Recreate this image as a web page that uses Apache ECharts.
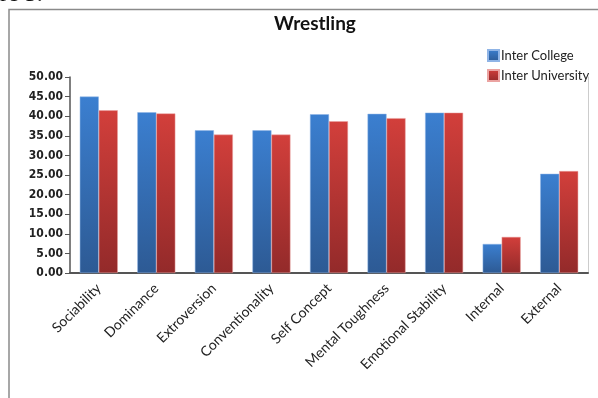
<!DOCTYPE html>
<html>
<head>
<meta charset="utf-8">
<script src="https://cdn.jsdelivr.net/npm/echarts@6/dist/echarts.min.js"></script>
<style>
  html, body { margin: 0; padding: 0; background: #fff; }
  #chart { width: 598px; height: 398px; }
</style>
</head>
<body>
<div id="chart"></div>
<script>
// 数据
var categories = ['Sociability', 'Dominance', 'Extroversion', 'Conventionality', 'Self Concept',
  'Mental Toughness', 'Emotional Stability', 'Internal', 'External']
var collegeValues = [45.0, 41.0, 36.4, 36.4, 40.5, 40.6, 40.9, 7.4, 25.3]
var universityValues = [41.5, 40.7, 35.3, 35.3, 38.7, 39.5, 40.9, 9.2, 26.0]
var seriesNames = ['Inter College', 'Inter University']

function grad(top, bottom) {
  return new echarts.graphic.LinearGradient(0, 0, 0, 1, [
    { offset: 0, color: top },
    { offset: 1, color: bottom }
  ])
}

var chart = echarts.init(document.getElementById('chart'))
chart.setOption({
  animation: false,
  title: {
    text: 'Wrestling',
    left: 310,
    top: 9,
    textAlign: 'center',
    textStyle: { fontFamily: 'Lato', fontWeight: 'bold', fontSize: 19, color: '#111' }
  },
  legend: {
    orient: 'vertical',
    left: 482,
    top: 44,
    itemWidth: 11,
    itemHeight: 11,
    itemGap: 7,
    icon: 'rect',
    data: seriesNames,
    textStyle: { fontFamily: 'Lato', fontSize: 13, color: '#222', padding: [0, 0, 0, -3] }
  },
  graphic: [
    {
      type: 'text',
      left: 0,
      top: -17,
      style: { text: 're 5.', font: '24px "Liberation Serif"', fill: '#111' }
    },
    {
      type: 'polyline',
      shape: { points: [[9, 398], [9, 9.5], [598, 9.5]] },
      style: { stroke: '#8a8a8a', lineWidth: 1.5, fill: null }
    }
  ],
  grid: { left: 70, right: 10, top: 77, bottom: 125 },
  xAxis: {
    type: 'category',
    data: categories,
    axisLine: { lineStyle: { color: '#555', width: 2 } },
    axisTick: { show: false },
    axisLabel: {
      rotate: 45,
      margin: 13,
      fontFamily: 'Lato',
      fontSize: 14,
      color: '#222'
    }
  },
  yAxis: [
    {
      type: 'value',
      min: 0,
      max: 50,
      interval: 5,
      splitLine: { show: false },
      axisLine: { show: true, lineStyle: { color: '#555', width: 1.5 } },
      axisTick: { show: true, length: 5, lineStyle: { color: '#555' } },
      axisLabel: {
        margin: 7,
        fontFamily: 'DejaVu Sans Condensed',
        fontWeight: 'bold',
        fontSize: 12,
        color: '#222',
        formatter: function (v) { return v.toFixed(2) }
      }
    },
    {
      type: 'value',
      position: 'right',
      min: 0,
      max: 50,
      splitLine: { show: false },
      axisLine: { show: true, lineStyle: { color: '#ccc', width: 1 } },
      axisTick: { show: false },
      axisLabel: { show: false }
    }
  ],
  series: [
    {
      name: seriesNames[0],
      type: 'bar',
      data: collegeValues,
      barGap: '0%',
      barCategoryGap: '34%',
      itemStyle: {
        color: grad('#3b7fd0', '#2d5a94'),
        borderColor: '#8fb4e6',
        borderWidth: 0.5
      }
    },
    {
      name: seriesNames[1],
      type: 'bar',
      data: universityValues,
      itemStyle: {
        color: grad('#d23f3b', '#932a2a'),
        borderColor: '#eba3a1',
        borderWidth: 0.5
      }
    }
  ]
})
</script>
</body>
</html>
